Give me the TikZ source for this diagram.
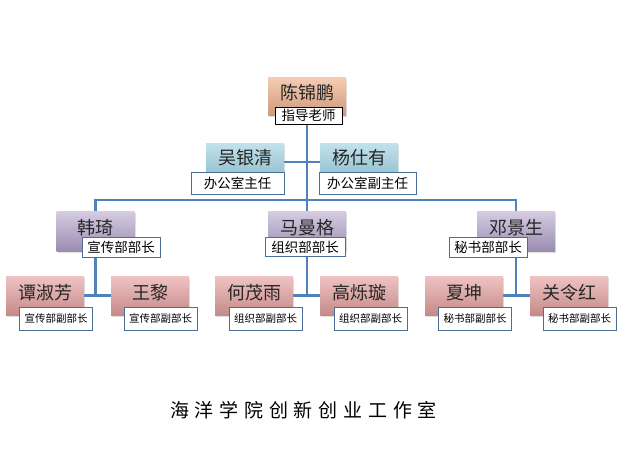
\documentclass[tikz,border=0pt]{standalone}
\usepackage{fontspec}
\newfontfamily\cjk{Noto Sans CJK SC}
\usetikzlibrary{backgrounds,shadows,calc}
\definecolor{conncol}{HTML}{4F81BD}
\definecolor{lblbord}{HTML}{4A6E96}
\definecolor{peachT}{HTML}{F5CDB3}\definecolor{peachB}{HTML}{CF9A7D}
\definecolor{blueT}{HTML}{C2E2EC}\definecolor{blueB}{HTML}{8CBCCA}
\definecolor{purpT}{HTML}{D5CDE2}\definecolor{purpB}{HTML}{9A8CB0}
\definecolor{roseT}{HTML}{EEC3C2}\definecolor{roseB}{HTML}{C58B8A}
\definecolor{nametext}{HTML}{262626}
\tikzset{
  pbox/.style={inner sep=0pt, minimum width=78pt, minimum height=#1,
    drop shadow={opacity=0.25, shadow xshift=1pt, shadow yshift=-1.5pt}},
  nm/.style={font=\cjk\fontsize{18}{18}\selectfont, text=nametext, inner sep=0pt, yshift=3pt},
  peach/.style={top color=peachT, bottom color=peachB},
  bluec/.style={top color=blueT, bottom color=blueB},
  purp/.style={top color=purpT, bottom color=purpB},
  rose/.style={top color=roseT, bottom color=roseB},
  lbl/.style={draw=lblbord, fill=white, line width=0.8pt, inner sep=0pt,
    font=\cjk\fontsize{13.5}{13.5}\selectfont},
  slbl/.style={draw=lblbord, fill=white, line width=0.8pt, inner sep=0pt,
    minimum width=73pt, minimum height=23pt, font=\cjk\fontsize{10.5}{10.5}\selectfont},
  conn/.style={draw=conncol, line width=2.5pt},
}
\newcommand{\fk}{\kern5.8pt }
\begin{document}
\begin{tikzpicture}[x=1pt,y=-1pt]
\useasboundingbox (0,0) rectangle (630,453);
% level 1
\node[pbox=38pt, peach, label={[nm]center:陈锦鹏}] (cjp) at (307,96) {};
\node[lbl, draw=black, minimum width=67pt, minimum height=17pt] (cjpL) at (308.5,115.5) {指导老师};
% level 2
\node[pbox=38pt, bluec, label={[nm, yshift=1pt]center:吴银清}] (wyq) at (245,162) {};
\node[pbox=38pt, bluec, label={[nm, yshift=1pt]center:杨仕有}] (ysy) at (359,162) {};
\node[lbl, minimum width=93pt, minimum height=22pt] (wyqL) at (237.5,183) {办公室主任};
\node[lbl, minimum width=97pt, minimum height=22pt] (ysyL) at (367.5,183) {办公室副主任};
% level 3
\node[pbox=40pt, purp, label={[nm]center:韩琦}] (hq) at (95.5,231) {};
\node[pbox=40pt, purp, label={[nm]center:马曼格}] (mmg) at (307,231) {};
\node[pbox=40pt, purp, label={[nm]center:邓景生}] (dj) at (516,231) {};
\node[lbl, minimum width=78pt, minimum height=20pt] (hqL) at (121,247) {宣传部部长};
\node[lbl, minimum width=80pt, minimum height=19pt] (mmgL) at (305,247) {组织部部长};
\node[lbl, minimum width=78pt, minimum height=20pt] (djL) at (488,247) {秘书部部长};
% level 4
\node[pbox=39pt, rose, label={[nm]center:谭淑芳}] (tsf) at (45,295.5) {};
\node[pbox=39pt, rose, label={[nm]center:王黎}] (wl) at (150,295.5) {};
\node[pbox=39pt, rose, label={[nm]center:何茂雨}] (hmy) at (254,295.5) {};
\node[pbox=39pt, rose, label={[nm]center:高烁璇}] (gsx) at (359,295.5) {};
\node[pbox=39pt, rose, label={[nm]center:夏坤}] (xk) at (464,295.5) {};
\node[pbox=39pt, rose, label={[nm]center:关令红}] (glh) at (569,295.5) {};
\node[slbl] (tsfL) at (56,318.5) {宣传部副部长};
\node[slbl] (wlL) at (160.5,318.5) {宣传部副部长};
\node[slbl] (hmyL) at (265.5,318.5) {组织部副部长};
\node[slbl] (gsxL) at (370.5,318.5) {组织部副部长};
\node[slbl] (xkL) at (475,318.5) {秘书部副部长};
\node[slbl] (glhL) at (579.5,318.5) {秘书部副部长};
% footer
\node[font=\cjk\fontsize{19}{19}\selectfont, inner sep=0pt] (foot) at (303.5,410)
  {海\fk 洋\fk 学\fk 院\fk 创\fk 新\fk 创\fk 业\fk 工\fk 作\fk 室};
% connectors
\begin{scope}[on background layer]
\coordinate (bus) at (307,200);
\draw[conn] (cjp.south) -- (mmg.north);
\draw[conn] (wyq.east) -- (ysy.west);
\draw[conn] (hq.north) |- (bus) -| (dj.north);
\draw[conn] (hq.south) -- (hq.south |- tsf.east);
\draw[conn] (tsf.east) -- (wl.west);
\draw[conn] (mmg.south) -- (mmg.south |- hmy.east);
\draw[conn] (hmy.east) -- (gsx.west);
\draw[conn] (dj.south) -- (dj.south |- xk.east);
\draw[conn] (xk.east) -- (glh.west);
\end{scope}
\end{tikzpicture}
\end{document}
